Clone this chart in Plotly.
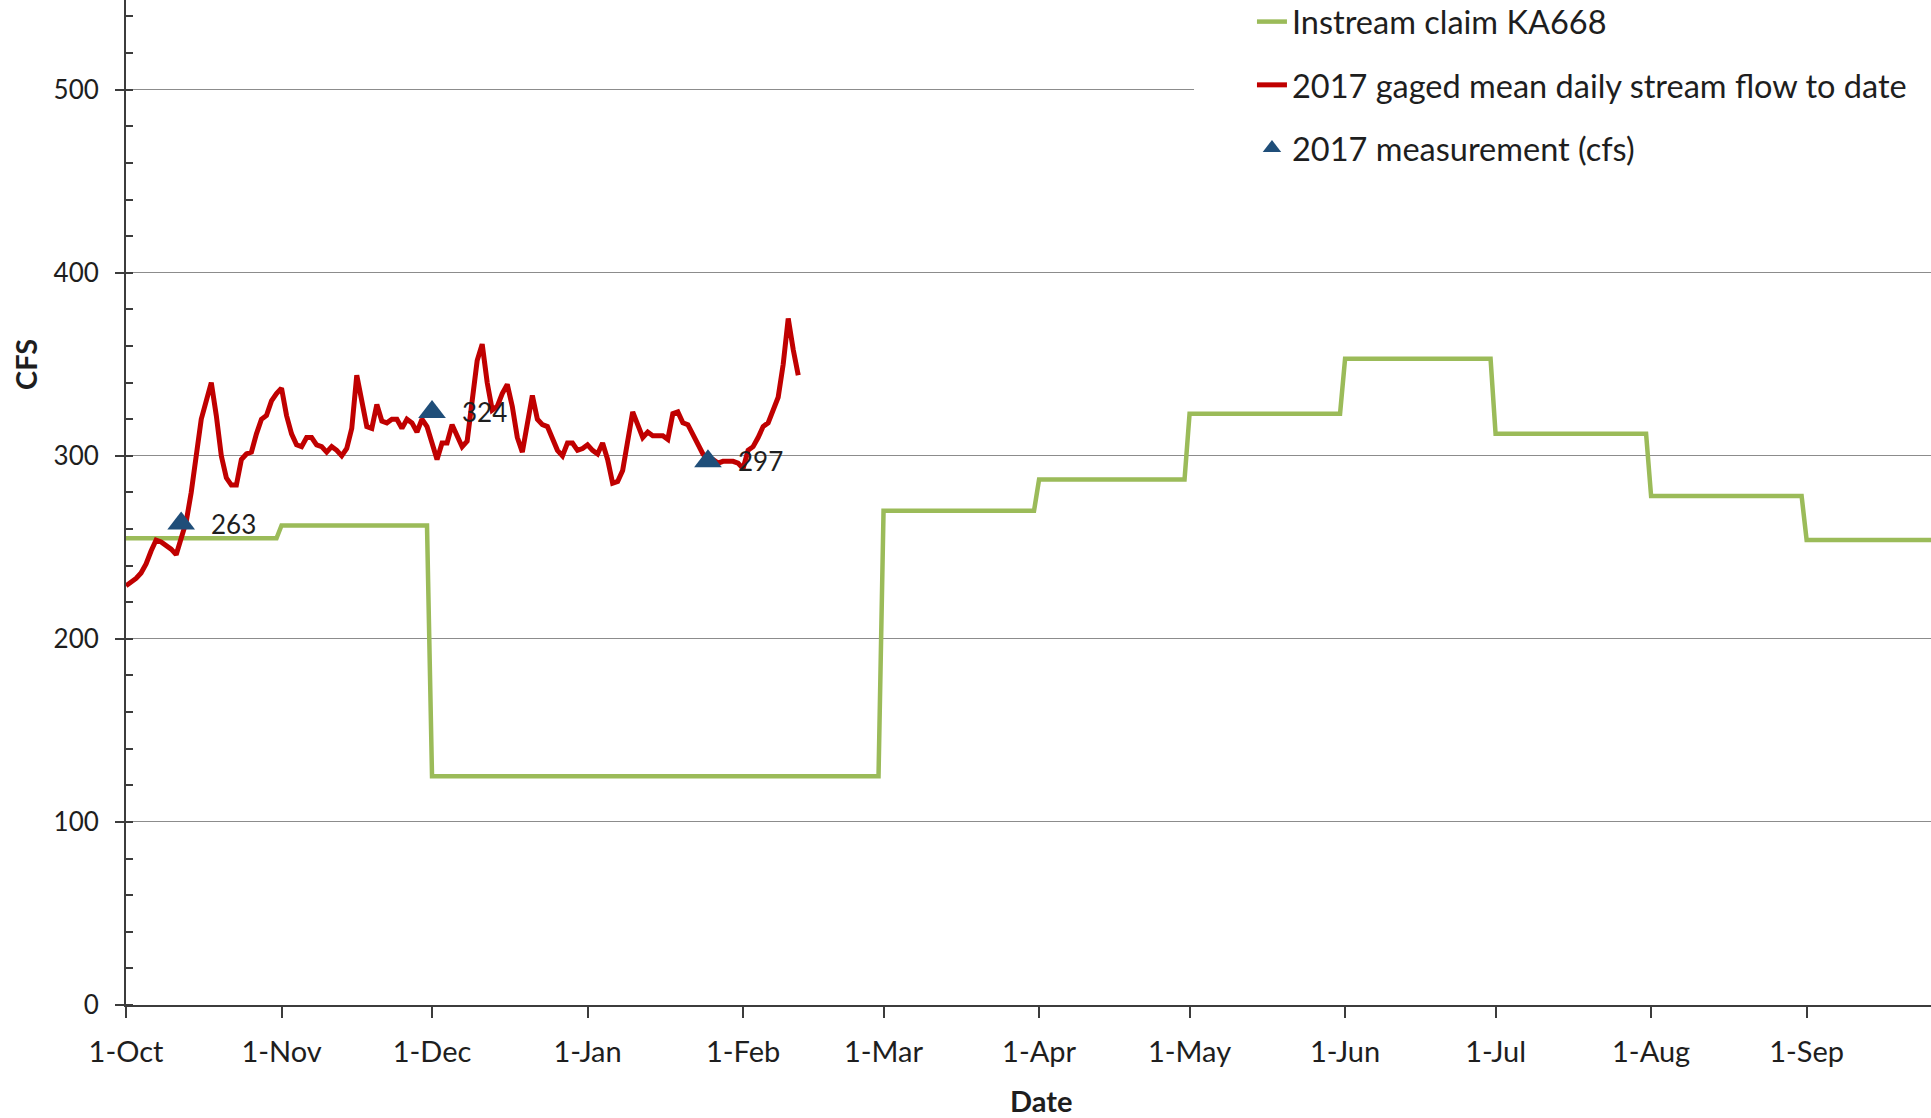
import pandas as pd
import plotly.graph_objects as go

# ---------------- data ----------------
flow_start = "2016-10-01"
flow_cfs = [229, 231, 233, 236, 241, 248, 254, 253, 251, 249,
            246, 254, 264, 280, 300, 320, 330, 340, 322, 300,
            288, 284, 284, 298, 301, 302, 312, 320, 322, 330,
            334, 337, 322, 312, 306, 305, 310, 310, 306, 305,
            302, 305, 303, 300, 304, 315, 344, 330, 316, 315,
            328, 319, 318, 320, 320, 315, 320, 318, 313, 320,
            316, 307, 298, 307, 307, 317, 311, 305, 308, 330,
            352, 361, 340, 325, 327, 334, 339, 327, 310, 302,
            316, 333, 320, 317, 316, 310, 303, 300, 307, 307,
            303, 304, 306, 303, 301, 307, 298, 285, 286, 292,
            308, 324, 317, 310, 313, 311, 311, 311, 309, 323,
            324, 318, 317, 312, 306, 301, 298, 298, 296, 297,
            297, 297, 296, 293, 303, 305, 310, 316, 318, 325,
            332, 350, 375, 358, 344]

claim_months = ["2016-10-01", "2016-11-01", "2016-12-01", "2017-01-01",
                "2017-02-01", "2017-03-01", "2017-04-01", "2017-05-01",
                "2017-06-01", "2017-07-01", "2017-08-01", "2017-09-01",
                "2017-10-01"]
claim_cfs = [255, 262, 125, 125, 125, 270, 287, 323, 353, 312, 278, 254]

meas_dates = ["2016-10-12", "2016-12-01", "2017-01-25"]
meas_cfs = [263, 324, 297]

tick_dates = ["2016-10-01", "2016-11-01", "2016-12-01", "2017-01-01",
              "2017-02-01", "2017-03-01", "2017-04-01", "2017-05-01",
              "2017-06-01", "2017-07-01", "2017-08-01", "2017-09-01"]
tick_labels = ["1-Oct", "1-Nov", "1-Dec", "1-Jan", "1-Feb", "1-Mar",
               "1-Apr", "1-May", "1-Jun", "1-Jul", "1-Aug", "1-Sep"]

x_range = ["2016-10-01", "2017-09-25 19:00"]
y_range = [0, 549]

# ---------------- derived series ----------------
flow_dates = pd.date_range(flow_start, periods=len(flow_cfs), freq="D")

claim_x, claim_y = [], []
for i, v in enumerate(claim_cfs):
    start = pd.Timestamp(claim_months[i])
    end = pd.Timestamp(claim_months[i + 1]) - pd.Timedelta(days=1)
    claim_x += [start, end]
    claim_y += [v, v]

FONT = "Lato"
TXT = "#1e1e1e"
AX = "#3c3c3c"

fig = go.Figure()
fig.add_trace(go.Scatter(
    x=claim_x, y=claim_y, mode="lines", name="Instream claim KA668",
    line=dict(color="#9BBB59", width=4.5), legendgroup="a"))
fig.add_trace(go.Scatter(
    x=flow_dates, y=flow_cfs, mode="lines",
    name="2017 gaged mean daily stream flow to date",
    line=dict(color="#C00000", width=5), legendgroup="b"))
fig.add_trace(go.Scatter(
    x=meas_dates, y=meas_cfs, mode="markers", name="2017 measurement (cfs)",
    marker=dict(symbol="triangle-up", size=24, color="#1F4E79"),
    legendgroup="c"))

for d, v in zip(meas_dates, meas_cfs):
    fig.add_annotation(x=d, y=v, text=str(v), showarrow=False,
                       xanchor="left", yanchor="middle", xshift=28,
                       font=dict(family=FONT, size=26, color=TXT))

fig.add_annotation(xref="paper", yref="paper", x=-0.056, y=0.6377,
                   text="<b>CFS</b>", textangle=-90, showarrow=False,
                   xanchor="center", yanchor="middle",
                   font=dict(family=FONT, size=29, color=TXT))
fig.add_annotation(xref="paper", yref="paper", x=0.507, y=-0.0949,
                   text="<b>Date</b>", showarrow=False,
                   xanchor="center", yanchor="middle",
                   font=dict(family=FONT, size=29, color=TXT))

# white legend area (hides the gridline behind the legend box)
fig.add_shape(type="rect", xref="paper", yref="paper",
              x0=0.5917, x1=1.0, y0=0.81, y1=1.0,
              fillcolor="white", line=dict(width=0), layer="above")

fig.update_layout(
    width=1931, height=1118,
    margin=dict(l=126, r=0, t=0, b=113, autoexpand=False),
    paper_bgcolor="white", plot_bgcolor="white",
    font=dict(family=FONT, color=TXT),
    showlegend=True,
    legend=dict(x=0.6238, y=1.006, xanchor="left", yanchor="top",
                bgcolor="white", font=dict(family=FONT, size=32.5, color=TXT),
                tracegroupgap=18, traceorder="grouped"),
    xaxis=dict(type="date", range=x_range, tickvals=tick_dates,
               ticktext=tick_labels, ticks="outside", ticklen=11,
               tickwidth=1.5, tickcolor=AX, showline=True, linecolor=AX,
               linewidth=2, showgrid=False, zeroline=False,
               tickfont=dict(family=FONT, size=29, color=TXT),
               ticklabelstandoff=9, automargin=False),
    yaxis=dict(range=y_range, tick0=0, dtick=100, ticks="outside",
               ticklen=9, tickwidth=1.5, tickcolor=AX, showline=True,
               linecolor=AX, linewidth=2, showgrid=True,
               gridcolor="#8c8c8c", gridwidth=1, zeroline=False,
               tickfont=dict(family=FONT, size=26, color=TXT),
               ticklabelstandoff=11, automargin=False,
               minor=dict(dtick=20, ticks="inside", ticklen=7,
                          tickcolor=AX, tickwidth=1.5, showgrid=False)),
)

fig.write_html("out.html",
               config={"displayModeBar": False},
               post_script="document.body.style.margin='0px';"
                           "document.body.style.overflow='hidden';")
